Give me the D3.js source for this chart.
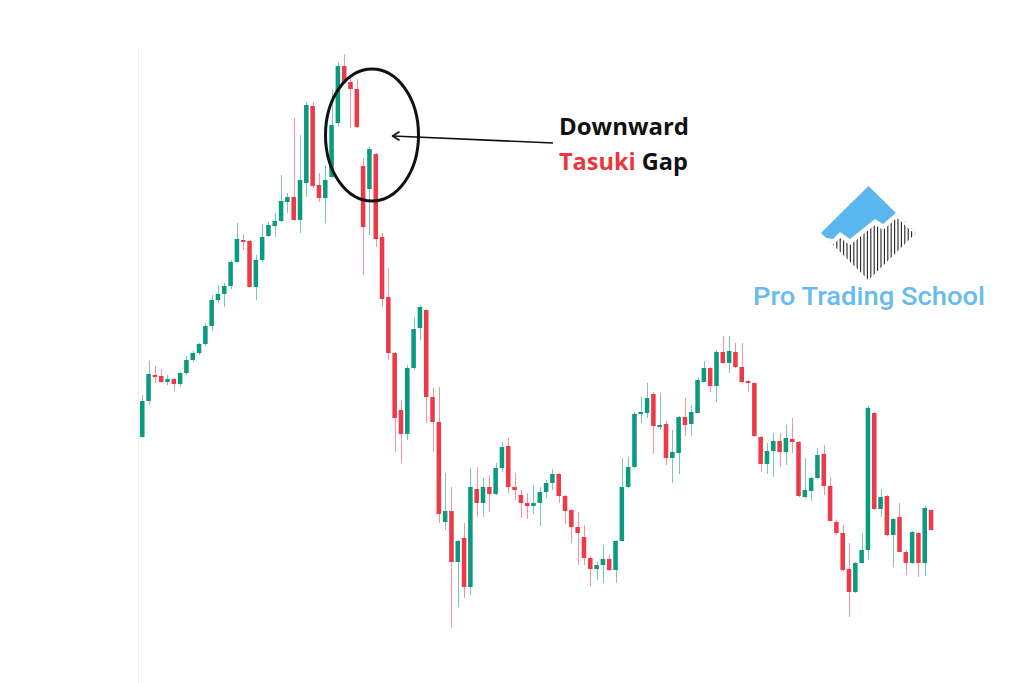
<!DOCTYPE html>
<html>
<head>
<meta charset="utf-8">
<script src="https://cdn.jsdelivr.net/npm/d3@7"></script>
<style>
  html, body { margin: 0; padding: 0; background: #ffffff; }
  svg { display: block; }
</style>
</head>
<body>
<svg id="chart" width="1024" height="683"></svg>
<script>
// ---- Data (price units) ----
const opens  = [246,282,308,307,301,304,299,310,323,330,339,357,383,389,397,421,443,442,396,423,447,457,462,481,486,463,500,577,498,485,506,560,617,601,594,517,494,529,446,386,330,273,249,315,355,373,286,261,161,172,121,145,96,194,180,196,189,215,237,196,188,180,177,180,191,200,209,187,173,156,146,125,114,118,124,113,142,196,216,269,270,289,256,259,225,230,266,259,270,301,315,297,331,320,331,316,302,300,246,219,232,242,231,244,241,186,192,205,229,197,161,150,114,91,120,133,270,174,187,148,166,131,120,150,120,173];
const highs  = [288,322,317,314,308,305,311,327,332,340,360,388,398,400,423,460,449,443,428,459,461,470,508,490,565,548,581,581,510,518,593,621,629,605,604,525,536,530,450,415,331,283,318,366,378,374,295,296,210,196,143,160,215,216,205,208,220,241,245,210,193,190,198,196,203,214,210,188,174,171,158,127,121,138,128,143,225,226,271,286,300,291,290,262,253,267,285,278,306,322,316,333,347,347,340,340,303,300,247,240,250,250,258,265,242,225,206,235,238,206,163,158,140,121,150,277,271,194,188,165,180,133,152,151,177,174];
const lows   = [245,278,300,300,298,292,296,308,321,328,337,352,380,376,394,420,433,396,383,421,446,446,461,470,462,450,486,495,481,460,505,556,600,555,555,408,448,436,376,323,231,220,243,313,343,260,231,160,153,55,76,85,88,166,166,171,188,211,190,183,165,164,169,157,185,193,180,159,140,118,118,97,103,100,112,100,141,195,215,260,265,229,253,218,200,209,247,247,270,301,291,281,319,310,315,300,291,246,211,209,206,216,218,230,186,184,182,204,188,162,148,112,66,90,119,123,173,166,147,116,131,108,119,106,107,152];
const closes = [282,309,306,301,304,299,310,323,330,339,357,383,389,397,421,444,441,396,423,446,458,462,482,486,463,503,578,497,485,503,558,617,601,594,556,456,534,444,384,330,265,249,315,354,376,286,261,169,172,121,142,96,196,180,196,189,215,236,196,193,180,177,180,191,200,209,187,172,156,150,125,114,118,124,113,142,196,216,269,271,285,257,258,225,231,266,258,271,303,315,297,331,320,332,316,301,300,247,219,232,242,231,245,241,187,193,205,228,197,162,150,113,91,120,133,275,174,186,148,164,131,120,151,120,175,153];
const titleLine1 = "Downward";
const titleLine2a = "Tasuki";
const titleLine2b = " Gap";
const brandName = "Pro Trading School";

const candles = opens.map((o, i) => ({ i, o, h: highs[i], l: lows[i], c: closes[i] }));

const UP = "#0a9a7e", DOWN = "#ee3a48";

const svg = d3.select("#chart");

const x = d3.scaleBand()
  .domain(candles.map(d => d.i))
  .range([139.1, 934.2])
  .paddingInner(0.28)
  .paddingOuter(0.14);

const y = d3.scaleLinear().domain([0, 683]).range([683, 0]);

// faint left border
svg.append("line")
  .attr("x1", 138.5).attr("x2", 138.5)
  .attr("y1", 47).attr("y2", 683)
  .attr("stroke", "#efefef").attr("stroke-width", 1);

const g = svg.append("g");

const cx = d => x(d.i) + x.bandwidth() / 2;

// wicks
g.selectAll("line.wick").data(candles).join("line")
  .attr("class", "wick")
  .attr("x1", d => Math.round(cx(d)) + 0.5)
  .attr("x2", d => Math.round(cx(d)) + 0.5)
  .attr("y1", d => y(d.h))
  .attr("y2", d => y(d.l))
  .attr("stroke", d => d.c >= d.o ? UP : DOWN)
  .attr("stroke-opacity", 0.55)
  .attr("stroke-width", 1);

// bodies
g.selectAll("rect.body").data(candles).join("rect")
  .attr("class", "body")
  .attr("x", d => x(d.i))
  .attr("width", x.bandwidth())
  .attr("y", d => y(Math.max(d.o, d.c)))
  .attr("height", d => Math.max(1.5, Math.abs(y(d.o) - y(d.c))))
  .attr("fill", d => d.c >= d.o ? UP : DOWN);

// ellipse annotation
svg.append("ellipse")
  .attr("cx", 372).attr("cy", 135)
  .attr("rx", 46.5).attr("ry", 66)
  .attr("fill", "none")
  .attr("stroke", "#111")
  .attr("stroke-width", 3);

// arrow
svg.append("line")
  .attr("x1", 553).attr("y1", 143)
  .attr("x2", 393).attr("y2", 136)
  .attr("stroke", "#111").attr("stroke-width", 1.6);
svg.append("path")
  .attr("d", "M399,132 L392.5,136 L399,140")
  .attr("fill", "none")
  .attr("stroke", "#111").attr("stroke-width", 1.6)
  .attr("stroke-linejoin", "round").attr("stroke-linecap", "round");

// annotation text
svg.append("text")
  .attr("x", 559).attr("y", 135)
  .attr("font-family", "'Open Sans', sans-serif")
  .attr("font-weight", 700)
  .attr("font-size", 23.5)
  .attr("fill", "#111")
  .attr("textLength", 130).attr("lengthAdjust", "spacingAndGlyphs")
  .text(titleLine1);
const t2 = svg.append("text")
  .attr("x", 559).attr("y", 170)
  .attr("font-family", "'Open Sans', sans-serif")
  .attr("font-weight", 700)
  .attr("font-size", 23.5)
  .attr("fill", "#111");
t2.append("tspan").attr("fill", "#e8383d").text(titleLine2a);
t2.append("tspan").text(titleLine2b);

// logo
const logo = svg.append("g");
const dia = [[868.5,186],[916,233],[868.5,280],[821,233]];
const defs = svg.append("defs");
defs.append("clipPath").attr("id", "dia")
  .append("polygon").attr("points", dia.map(p => p.join(",")).join(" "));
const zig = [[821,240],[833,242],[840,235],[850,242],[875,222],[883,227],[897,215],[918,234]];
const lg = logo.append("g").attr("clip-path", "url(#dia)");
// stripes
const stripeX = d3.range(830, 916, 3.4);
lg.selectAll("line.stripe").data(stripeX).join("line")
  .attr("x1", d => d).attr("x2", d => d)
  .attr("y1", 200).attr("y2", 285)
  .attr("stroke", "#222").attr("stroke-width", 1.1);
// white band above stripes
const up = (pts, dy) => pts.map(p => [p[0], p[1] + dy]);
lg.append("polygon")
  .attr("points", [[815,180],[925,180], ...up(zig, 3).reverse()].map(p => p.join(",")).join(" "))
  .attr("fill", "#ffffff");
// blue
lg.append("polygon")
  .attr("points", [[815,180],[925,180], ...up(zig, -3).reverse()].map(p => p.join(",")).join(" "))
  .attr("fill", "#5ab7ee");

svg.append("text")
  .attr("x", 753).attr("y", 305)
  .attr("font-family", "Roboto, 'Liberation Sans', sans-serif")
  .attr("font-weight", 500)
  .attr("font-size", 26.5)
  .attr("fill", "#67bbee")
  .attr("textLength", 232).attr("lengthAdjust", "spacingAndGlyphs")
  .text(brandName);
</script>
</body>
</html>
